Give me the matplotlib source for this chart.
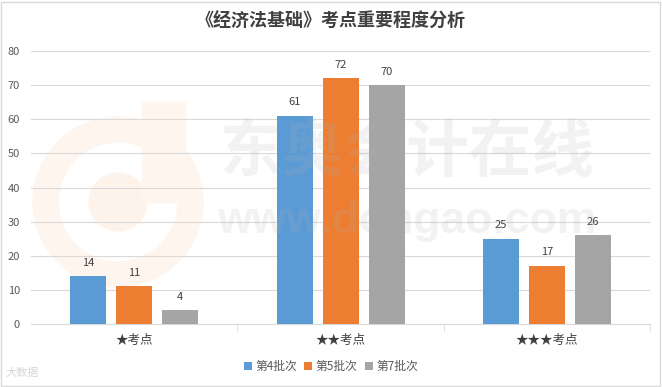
import numpy as np
import matplotlib
matplotlib.use('Agg')
import matplotlib.pyplot as plt
from matplotlib.patches import Rectangle, Wedge, Circle

plt.rcParams['font.family'] = ['Noto Sans CJK SC', 'DejaVu Sans']

# data
categories = ['★考点', '★★考点', '★★★考点']
series_names = ['第4批次', '第5批次', '第7批次']
batch4 = [14, 61, 25]
batch5 = [11, 72, 17]
batch7 = [4, 70, 26]
colors = ['#5B9BD5', '#ED7D31', '#A5A5A5']
title = '《经济法基础》考点重要程度分析'

fig = plt.figure(figsize=(6.62, 3.87), dpi=100)
ax = fig.add_axes([0.047, 0.163, 0.935, 0.705])

# faint logo behind the plot (positions in pixels -> inches)
W, H = 662, 387
def fx(px):
    return px / W
def fy(py):
    return 1 - py / H

logo_col = '#FEF5EE'
cx, cy = fx(118) * 6.62, fy(202) * 3.87
fig.patches.append(Wedge((cx, cy), 0.85, 0, 360, width=0.25,
                         transform=fig.dpi_scale_trans, color=logo_col, zorder=-2))
fig.patches.append(Circle((cx, cy), 0.29, transform=fig.dpi_scale_trans,
                          color='#FEF3EB', zorder=-2))
fig.patches.append(Rectangle((fx(142), fy(202)), fx(185) - fx(142), fy(102) - fy(202),
                             transform=fig.transFigure, color=logo_col, zorder=-2))

x = np.arange(len(categories))
width = 0.175
step = 0.223
for i, (vals, name) in enumerate(zip([batch4, batch5, batch7], series_names)):
    bars = ax.bar(x + (i - 1) * step, vals, width, color=colors[i], label=name, zorder=3)
    for b, v in zip(bars, vals):
        ax.text(b.get_x() + b.get_width() / 2, v + 2.5, str(v), ha='center', va='bottom',
                fontsize=8, color='#404040', zorder=5)

ax.set_facecolor('none')
ax.set_xlim(-0.5, 2.5)
ax.set_ylim(0, 80)
ax.set_yticks(range(0, 81, 10))
ax.yaxis.grid(True, color='#D9D9D9', linewidth=0.8, zorder=0)
ax.tick_params(axis='y', length=0, labelsize=8, labelcolor='#595959', pad=8)
for s in ['top', 'right', 'left']:
    ax.spines[s].set_visible(False)
ax.spines['bottom'].set_color('#D9D9D9')

ax.set_xticks(x)
ax.set_xticklabels(categories, fontsize=9, color='#404040')
ax.tick_params(axis='x', length=0, pad=7)
ax.set_xticks([0.5, 1.5, 2.5], minor=True)
ax.tick_params(axis='x', which='minor', length=5, color='#D9D9D9')

# watermark text, semi-transparent over the bars
ax.text(0.615, 0.605, '东奥会计在线', transform=fig.transFigure, fontsize=45,
        fontweight='bold', color='#B0B0B0', alpha=0.16, ha='center', va='center', zorder=6)
ax.text(0.615, 0.398, 'www.dongao.com', transform=fig.transFigure, fontsize=32,
        family='Liberation Sans', fontweight='bold', color='#B0B0B0', alpha=0.16,
        ha='center', va='baseline', zorder=6)
fig.text(0.008, 0.035, '大数据', fontsize=8, color='#D5D5D5', ha='left', va='center')

fig.text(0.5, 0.945, title, ha='center', va='center', fontsize=13, fontweight='bold',
         color='#404040')

fig.legend(loc='center', bbox_to_anchor=(0.5, 0.053), ncol=3, frameon=False, fontsize=8.5,
           handlelength=0.7, handleheight=0.7, handletextpad=0.3, columnspacing=0.6,
           labelcolor='#595959')

fig.patches.append(Rectangle((0.002, 0.003), 0.995, 0.993, transform=fig.transFigure,
                             fill=False, edgecolor='#D9D9D9', linewidth=1))

fig.savefig('out.png', dpi=100)
